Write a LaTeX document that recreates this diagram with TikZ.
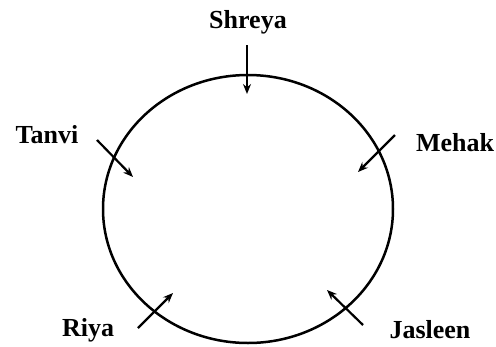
\documentclass[tikz,border=0pt]{standalone}
\usepackage{fontspec}
\setmainfont{Liberation Serif}
\usetikzlibrary{
    arrows.meta,
    positioning
}

\begin{document}
\begin{tikzpicture}[
        x=1pt, y=-1pt,
        person/.style={
            font=\bfseries\fontsize{26}{30}\selectfont,
            inner sep=0pt
        },
        pointer/.style={
            -{Stealth[length=10pt, width=8pt]},
            line width=2.2pt
        },
        ring/.style={
            line width=2.5pt
        }
    ]
    \useasboundingbox (0,0) rectangle (496,346);

    \draw[ring] (248,209) ellipse [x radius=145pt, y radius=134pt];

    \node[person] (shreya) at (248,22) {Shreya};
    \node[person] (tanvi) at (47,135) {Tanvi};
    \node[person] (mehak) at (455,143) {Mehak};
    \node[person] (riya) at (88,330) {Riya};
    \node[person] (jasleen) at (430,330) {Jasleen};

    \coordinate (shreyaA) at (247,45);
    \coordinate (shreyaB) at (247,94);
    \coordinate (tanviA) at (97,140);
    \coordinate (tanviB) at (133,177);
    \coordinate (mehakA) at (395,135);
    \coordinate (mehakB) at (358,172);
    \coordinate (riyaA) at (138,328);
    \coordinate (riyaB) at (173,293);
    \coordinate (jasleenA) at (363,325);
    \coordinate (jasleenB) at (327,290);

    \draw[pointer] (shreyaA) -- (shreyaB);
    \draw[pointer] (tanviA) -- (tanviB);
    \draw[pointer] (mehakA) -- (mehakB);
    \draw[pointer] (riyaA) -- (riyaB);
    \draw[pointer] (jasleenA) -- (jasleenB);

\end{tikzpicture}
\end{document}
